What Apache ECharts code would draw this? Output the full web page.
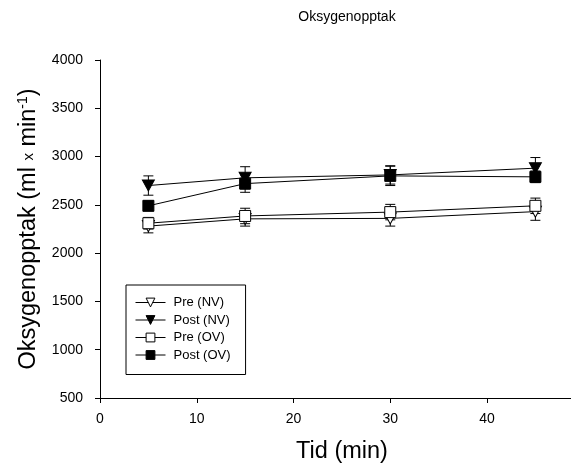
<!DOCTYPE html>
<html>
<head>
<meta charset="utf-8">
<script src="https://cdn.jsdelivr.net/npm/echarts@6/dist/echarts.min.js"></script>
<style>
html,body{margin:0;padding:0;background:#fff;}
#chart{width:571px;height:474px;}
</style>
</head>
<body>
<div id="chart"></div>
<script>
var times = [5, 15, 30, 45];
var xTicks = [0, 10, 20, 30, 40];
var yTicks = [500, 1000, 1500, 2000, 2500, 3000, 3500, 4000];

var preNV = [2280, 2355, 2360, 2430];
var preNVErr = [70, 75, 80, 90];
var postNV = [2700, 2780, 2810, 2880];
var postNVErr = [100, 115, 95, 110];
var preOV = [2310, 2385, 2425, 2490];
var preOVErr = [60, 80, 80, 80];
var postOV = [2490, 2720, 2800, 2790];
var postOVErr = [50, 90, 100, 60];

var seriesNames = ['Pre (NV)', 'Post (NV)', 'Pre (OV)', 'Post (OV)'];

var downTri = 'path://M0,0 L10,0 L5,9 Z';

function pts(vals) { return times.map(function (t, i) { return [t, vals[i]]; }); }
function errPts(vals, errs) { return times.map(function (t, i) { return [t, vals[i] - errs[i], vals[i] + errs[i]]; }); }

function errSeries(vals, errs) {
  return {
    type: 'custom',
    z: 1,
    silent: true,
    data: errPts(vals, errs),
    renderItem: function (params, api) {
      var x = api.value(0);
      var lo = api.coord([x, api.value(1)]);
      var hi = api.coord([x, api.value(2)]);
      var hw = 5;
      var st = { stroke: '#000', lineWidth: 1 };
      return {
        type: 'group',
        children: [
          { type: 'line', shape: { x1: lo[0], y1: lo[1], x2: hi[0], y2: hi[1] }, style: st },
          { type: 'line', shape: { x1: lo[0] - hw, y1: lo[1], x2: lo[0] + hw, y2: lo[1] }, style: st },
          { type: 'line', shape: { x1: hi[0] - hw, y1: hi[1], x2: hi[0] + hw, y2: hi[1] }, style: st }
        ]
      };
    }
  };
}

function lineSeries(name, vals, symbol, filled) {
  return {
    name: name,
    type: 'line',
    z: 3,
    data: pts(vals),
    symbol: symbol,
    symbolSize: symbol === 'rect' ? 11 : [12, 11],
    showAllSymbol: true,
    lineStyle: { color: '#000', width: 1 },
    itemStyle: { color: filled ? '#000' : '#fff', borderColor: '#000', borderWidth: 1 },
    emphasis: { disabled: true },
    animation: false
  };
}

var chart = echarts.init(document.getElementById('chart'), null, { renderer: 'canvas' });
chart.setOption({
  animation: false,
  backgroundColor: '#fff',
  title: {
    text: 'Oksygenopptak',
    left: 342,
    textAlign: 'center',
    top: 5,
    textStyle: { fontFamily: 'Liberation Sans, Arial', fontSize: 14, fontWeight: 'normal', color: '#000' }
  },
  legend: {
    data: seriesNames,
    orient: 'vertical',
    left: 126,
    top: 285,
    itemWidth: 30,
    itemHeight: 11,
    itemGap: 4.5,
    padding: [11, 15, 13, 9],
    borderColor: '#000',
    borderWidth: 1,
    backgroundColor: '#fff',
    selectedMode: false,
    lineStyle: { width: 1 },
    itemStyle: { borderWidth: 1 },
    textStyle: { fontFamily: 'Liberation Sans, Arial', fontSize: 13, color: '#000', padding: [0, 0, 0, 3] }
  },
  grid: { left: 100, top: 60, right: 0, bottom: 76, containLabel: false },
  xAxis: {
    type: 'value',
    min: 0,
    max: 48.68,
    interval: 10,
    name: 'Tid (min)',
    nameLocation: 'middle',
    nameGap: 42,
    nameTextStyle: { fontFamily: 'Liberation Sans, Arial', fontSize: 23.5, color: '#000', padding: [0, 0, 0, 13] },
    axisLine: { show: true, lineStyle: { color: '#000', width: 1 } },
    axisTick: { show: true, inside: false, length: 5, lineStyle: { color: '#000' }, customValues: xTicks },
    axisLabel: {
      margin: 14,
      fontFamily: 'Liberation Sans, Arial', fontSize: 14, color: '#000',
      customValues: xTicks
    },
    splitLine: { show: false }
  },
  yAxis: {
    type: 'value',
    min: 500,
    max: 4000,
    interval: 500,
    name: '{a|Oksygenopptak (ml }{b|x}{a| min}{sup|-1}{a|)}',
    nameLocation: 'middle',
    nameRotate: 90,
    nameGap: 58,
    nameTextStyle: {
      fontFamily: 'Liberation Sans, Arial', fontSize: 23.5, color: '#000',
      rich: {
        a: { fontFamily: 'Liberation Sans, Arial', fontSize: 23.5, color: '#000' },
        b: { fontFamily: 'Liberation Sans, Arial', fontSize: 15, color: '#000' },
        sup: { fontFamily: 'Liberation Sans, Arial', fontSize: 14, color: '#000', verticalAlign: 'top', padding: [0, 0, 12, 0] }
      }
    },
    axisLine: { show: true, lineStyle: { color: '#000', width: 1 } },
    axisTick: { show: true, inside: false, length: 5, lineStyle: { color: '#000' } },
    axisLabel: {
      margin: 17,
      fontFamily: 'Liberation Sans, Arial', fontSize: 14, color: '#000',
      formatter: function (v) { return yTicks.indexOf(v) >= 0 ? String(v) : ''; }
    },
    splitLine: { show: false }
  },
  series: [
    errSeries(preNV, preNVErr),
    errSeries(postNV, postNVErr),
    errSeries(preOV, preOVErr),
    errSeries(postOV, postOVErr),
    lineSeries(seriesNames[0], preNV, downTri, false),
    lineSeries(seriesNames[1], postNV, downTri, true),
    lineSeries(seriesNames[2], preOV, 'rect', false),
    lineSeries(seriesNames[3], postOV, 'rect', true)
  ]
});
</script>
</body>
</html>
